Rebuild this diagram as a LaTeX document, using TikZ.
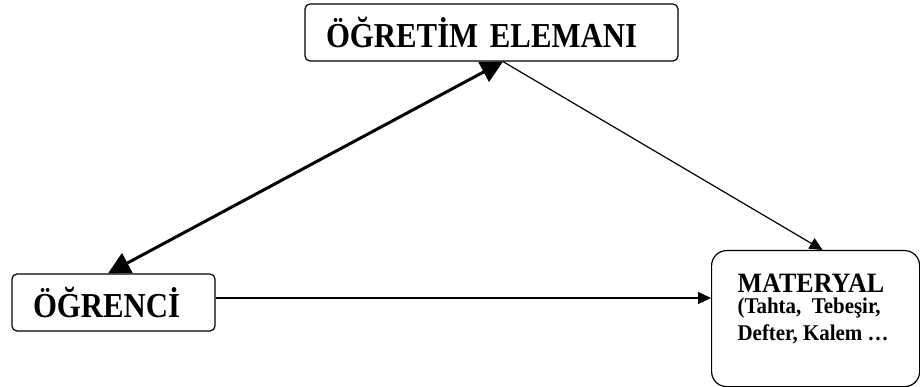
\documentclass[tikz,border=0pt]{standalone}
\usepackage{fontspec}
\setmainfont{Liberation Serif}
\newfontfamily\titlefont{Liberation Serif}[FakeStretch=0.88]
\newfontfamily\boxfont{Liberation Serif}[FakeStretch=0.93]
\usetikzlibrary{arrows.meta}
\begin{document}
\begin{tikzpicture}[x=1pt,y=-1pt]
\tikzset{box/.style={draw, line width=1.2pt, rounded corners=5pt, align=left, inner ysep=0pt, font=\titlefont\bfseries\fontsize{35}{40}\selectfont},
 oneway/.style={line width=1.2pt, -{Triangle[length=13pt,width=12pt]}},
 bothway/.style={line width=3pt, {Triangle[length=22pt,width=22pt]}-{Triangle[length=22pt,width=22pt]}}}
\useasboundingbox (0,0) rectangle (920,387);
\node[box, minimum height=57pt, text width=331pt, inner xsep=21pt] (teacher) at (491.5,32.5) {ÖĞRETİM ELEMANI};
\node[box, minimum height=57pt, text width=161pt, inner xsep=21pt] (student) at (113.5,302.5) {ÖĞRENCİ};
\node[box, rounded corners=15pt, minimum width=208pt, minimum height=136pt, inner xsep=26pt, inner ysep=23pt, anchor=north west, font=\boxfont\bfseries\fontsize{22.5}{26.7}\selectfont] (material) at (711,250)
 {\parbox[c][90pt][t]{156pt}{\raggedright{\fontsize{28}{28}\selectfont MATERYAL}\\[-5.1pt](Tahta,~~Tebeşir,\\Defter, Kalem …}};
\draw[bothway] ([xshift=11.5pt]teacher.south) -- ([xshift=-5.5pt]student.north);
\draw[oneway] ([xshift=11.5pt]teacher.south) -- ([xshift=7pt]material.north);
\draw[oneway] ([yshift=4.5pt]student.east) -- ([yshift=4.5pt]student.east -| material.west);
\end{tikzpicture}
\end{document}
